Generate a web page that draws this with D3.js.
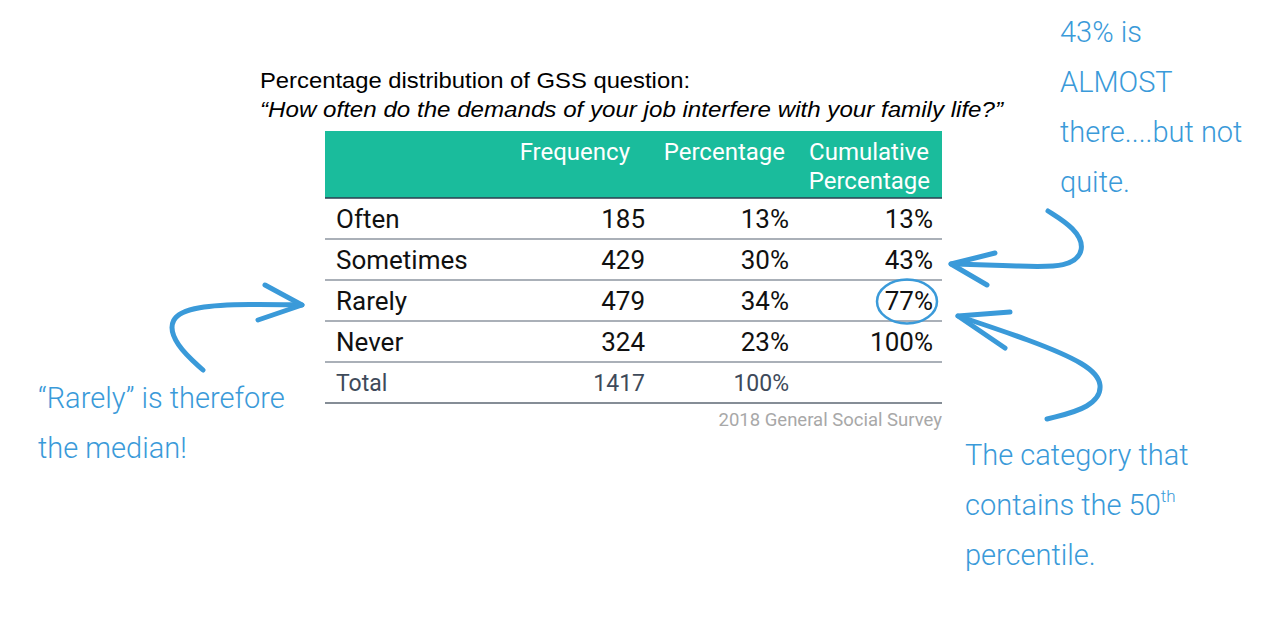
<!DOCTYPE html>
<html lang="en">
<head>
  <meta charset="UTF-8">
  <title>GSS frequency table</title>
  <script src="https://d3js.org/d3.v7.min.js"></script>
  <style>
    body { margin: 0; background: #ffffff; }
    svg { display: block; }
    .title { font-family: "Liberation Sans", Arial, sans-serif; font-size: 22px; fill: #000; }
    .cell { font-family: Roboto, sans-serif; font-size: 26px; fill: #111; }
    .colhead { font-family: Roboto, sans-serif; font-size: 24px; fill: #fff; }
    .total { font-family: Roboto, sans-serif; font-size: 23px; fill: #3e4a5a; }
    .source { font-family: Roboto, sans-serif; font-size: 18.5px; fill: #a8a8a8; }
    .note { font-family: Roboto, sans-serif; font-weight: 300; font-size: 29px; fill: #3a9ad9; }
    .pen { fill: none; stroke: #3a9ad9; stroke-width: 5; stroke-linecap: round; stroke-linejoin: round; }
  </style>
</head>
<body>
  <svg id="chart" width="1273" height="617"></svg>

  <script>
    // table data
    const categories = ["Often", "Sometimes", "Rarely", "Never"];
    const frequency = [185, 429, 479, 324];
    const percentage = ["13%", "30%", "34%", "23%"];
    const cumulative = ["13%", "43%", "77%", "100%"];
    const totalFreq = 1417;
    const totalPct = "100%";
    const columns = ["Frequency", "Percentage", "Cumulative"];

    const svg = d3.select("#chart");

    // title
    svg.append("text").attr("class", "title").attr("x", 260).attr("y", 88)
      .attr("textLength", 430).attr("lengthAdjust", "spacingAndGlyphs")
      .text("Percentage distribution of GSS question:");
    svg.append("text").attr("class", "title").attr("x", 260).attr("y", 117)
      .attr("textLength", 743).attr("lengthAdjust", "spacingAndGlyphs")
      .style("font-style", "italic")
      .text("\u201CHow often do the demands of your job interfere with your family life?\u201D");

    const left = 325, right = 942;
    const rows = categories.concat(["Total"]);
    const y = d3.scaleBand().domain(rows).range([198, 403]);
    const x = d3.scalePoint().domain(columns).range([645, 933]);

    // header
    svg.append("rect").attr("x", left).attr("y", 131)
      .attr("width", right - left).attr("height", 198 - 131)
      .attr("fill", "#1abc9c");
    svg.append("line").attr("x1", left).attr("x2", right).attr("y1", 198).attr("y2", 198)
      .attr("stroke", "#2c3e50").attr("stroke-width", 1.5);

    svg.append("text").attr("class", "colhead").attr("text-anchor", "end")
      .attr("x", x("Frequency") - 15).attr("y", 160).text("Frequency");
    svg.append("text").attr("class", "colhead").attr("text-anchor", "end")
      .attr("x", x("Percentage") - 4).attr("y", 160).text("Percentage");
    svg.append("text").attr("class", "colhead").attr("text-anchor", "end")
      .attr("x", x("Cumulative") - 4).attr("y", 160).text("Cumulative");
    svg.append("text").attr("class", "colhead").attr("text-anchor", "end")
      .attr("x", x("Cumulative") - 3).attr("y", 189).text("Percentage");

    // body rows
    const body = svg.append("g");
    const base = d => y(d) + y.bandwidth() * 0.74;

    body.selectAll(".cat").data(categories).join("text")
      .attr("class", "cell cat").attr("x", 336).attr("y", base).text(d => d);

    body.selectAll(".freq").data(categories).join("text")
      .attr("class", "cell freq").attr("text-anchor", "end")
      .attr("x", x("Frequency")).attr("y", base).text((d, i) => frequency[i]);

    body.selectAll(".pct").data(categories).join("text")
      .attr("class", "cell pct").attr("text-anchor", "end")
      .attr("x", x("Percentage")).attr("y", base).text((d, i) => percentage[i]);

    body.selectAll(".cum").data(categories).join("text")
      .attr("class", "cell cum").attr("text-anchor", "end")
      .attr("x", x("Cumulative")).attr("y", base).text((d, i) => cumulative[i]);

    // total row
    svg.append("text").attr("class", "total").attr("x", 336).attr("y", base("Total") - 1).text("Total");
    svg.append("text").attr("class", "total").attr("text-anchor", "end")
      .attr("x", x("Frequency")).attr("y", base("Total") - 1).text(totalFreq);
    svg.append("text").attr("class", "total").attr("text-anchor", "end")
      .attr("x", x("Percentage")).attr("y", base("Total") - 1).text(totalPct);

    // row rules
    svg.selectAll(".rule").data(rows).join("line")
      .attr("class", "rule")
      .attr("x1", left).attr("x2", right)
      .attr("y1", d => y(d) + y.bandwidth()).attr("y2", d => y(d) + y.bandwidth())
      .attr("stroke", (d, i) => i === rows.length - 1 ? "#5d6773" : "#8e96a0")
      .attr("stroke-width", 1.5);

    svg.append("text").attr("class", "source").attr("text-anchor", "end")
      .attr("x", right).attr("y", 426).text("2018 General Social Survey");

    // circle around the median cumulative value
    const median = "Rarely";
    svg.append("ellipse").attr("class", "pen").style("stroke-width", 2.5)
      .attr("cx", x("Cumulative") - 26).attr("cy", y(median) + y.bandwidth() / 2 + 1)
      .attr("rx", 30).attr("ry", 22);

    // hand-drawn arrows
    const curve = d3.line().curve(d3.curveBasis);
    const arrows = [
      [[1048, 211], [1075, 228], [1086, 250], [1068, 268], [1020, 266], [951, 264]],
      [[203, 370], [175, 345], [168, 318], [195, 306], [250, 304], [302, 305]],
      [[1047, 419], [1092, 408], [1105, 385], [1088, 364], [1030, 340], [958, 316]]
    ];
    const heads = [
      [[995, 253], [951, 264], [987, 285]],
      [[265, 285], [302, 305], [258, 320]],
      [[1010, 312], [958, 316], [1005, 348]]
    ];
    svg.selectAll(".arrow").data(arrows).join("path")
      .attr("class", "pen arrow").attr("d", d => curve(d));
    svg.selectAll(".arrowhead").data(heads).join("path")
      .attr("class", "pen arrowhead").attr("d", d => d3.line()(d));

    // handwritten notes
    const notes = [
      { x: 1060, y: 42, lines: ["43% is", "ALMOST", "there....but not", "quite."] },
      { x: 38, y: 408, lines: ["\u201CRarely\u201D is therefore", "the median!"] },
      { x: 965, y: 465, lines: ["The category that", "contains the 50th", "percentile."] }
    ];
    notes.forEach(n => {
      const t = svg.append("text").attr("class", "note");
      n.lines.forEach((l, i) => {
        const ts = t.append("tspan").attr("x", n.x).attr("y", n.y + i * 50);
        if (l.endsWith("50th")) {
          ts.text("contains the 50");
          ts.append("tspan").attr("dy", -13).style("font-size", "17px").text("th");
        } else {
          ts.text(l);
        }
      });
    });
  </script>
</body>
</html>
